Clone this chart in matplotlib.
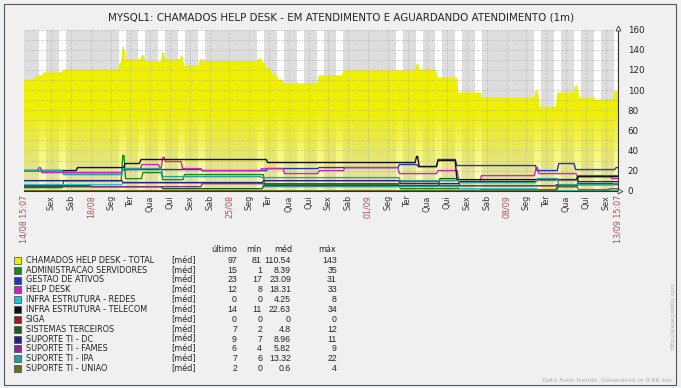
import numpy as np
import matplotlib

matplotlib.use("Agg")
import matplotlib.pyplot as plt  # noqa: E402
from matplotlib.patches import Rectangle  # noqa: E402

W, H = 681, 388

TITLE = "MYSQL1: CHAMADOS HELP DESK - EM ATENDIMENTO E AGUARDANDO ATENDIMENTO (1m)"

# time axis: days since 14/08 00:00
T_START, T_END = 0.63, 30.63

tick_days = list(range(2, 31))
tick_labels = ["Sex", "Sab", "18/08", "Seg", "Ter", "Qua", "Qui", "Sex", "Sab", "25/08",
               "Seg", "Ter", "Qua", "Qui", "Sex", "Sab", "01/09", "Seg", "Ter", "Qua",
               "Qui", "Sex", "Sab", "08/09", "Seg", "Ter", "Qua", "Qui", "Sex"]
edge_labels = ["14/08 15:07", "13/09 15:07"]

# series: change times (days) and the level held from each time on
names = ["CHAMADOS HELP DESK - TOTAL", "ADMINISTRACAO SERVIDORES", "GESTAO DE ATIVOS",
         "HELP DESK", "INFRA ESTRUTURA - REDES", "INFRA ESTRUTURA - TELECOM", "SIGA",
         "SISTEMAS TERCEIROS", "SUPORTE TI - DC", "SUPORTE TI - FAMES", "SUPORTE TI - IPA",
         "SUPORTE TI - UNIAO"]
colors = ["#eeee00", "#1a8a1a", "#2233cc", "#cc22cc", "#22c4d4", "#111111", "#a01818",
          "#1e5c1e", "#22228a", "#8a2a8a", "#26a0a0", "#6b6b1e"]

t_total = [0.63, 1.2, 1.6, 2.6, 5.45, 5.6, 5.7, 6.55, 6.7, 7.6, 7.7, 8.55, 8.65, 9.5, 9.7,
           12.45, 12.6, 12.8, 13.1, 13.4, 13.7, 15.5, 16.75, 20.45, 20.55, 21.45, 22.5, 23.7,
           26.45, 26.6, 27.55, 28.45, 28.6, 29.45, 30.45, 30.6]
v_total = [110, 114, 117, 120, 127, 143, 130, 134, 128, 137, 130, 134, 124, 130, 128,
           131, 127, 121, 115, 110, 106, 114, 119, 126, 120, 112, 97, 92,
           99, 83, 97, 104, 92, 90, 99, 97]

t_admin = [0.63, 2.6, 5.58, 5.72, 6.6, 7.6, 8.7, 12.75, 19.6, 23.7, 27.6, 28.6]
v_admin = [3, 10, 35, 12, 18, 11, 16, 6, 2, 1, 4, 15]

t_gestao = [0.63, 2.6, 5.6, 9.6, 12.9, 15.5, 19.55, 20.5, 21.5, 22.45, 26.5, 27.6, 28.45, 30.5]
v_gestao = [20, 18, 21, 20, 22, 23, 26, 24, 31, 25, 20, 27, 21, 23]

t_help = [0.63, 1.35, 1.5, 5.6, 6.55, 7.45, 7.6, 7.75, 8.6, 9.6, 12.6, 13.75, 15.5, 16.8,
          19.55, 21.5, 22.55, 23.7, 26.45, 26.6, 28.55, 30.3]
v_help = [20, 23, 18, 22, 26, 23, 33, 29, 22, 20, 22, 17, 20, 23,
          17, 20, 9, 15, 23, 17, 14, 12]

t_redes = [0.63, 5.6, 12.7, 22.6, 26.6]
v_redes = [6, 8, 4, 2, 0]

t_telecom = [0.63, 3.3, 5.7, 6.5, 12.9, 20.42, 20.55, 21.5, 22.45, 28.55]
v_telecom = [20, 23, 27, 31, 28, 34, 24, 30, 11, 14]

t_siga = [0.63]
v_siga = [0]

t_sistemas = [0.63, 7.6, 12.7, 21.6, 22.6, 28.6]
v_sistemas = [4, 2, 5, 12, 5, 7]

t_dc = [0.63, 5.6, 12.7, 19.6, 22.6, 26.5, 28.6]
v_dc = [10, 8, 10, 7, 9, 11, 9]

t_fames = [0.63, 4.0, 9.6, 19.6, 21.6, 27.5]
v_fames = [5, 4, 7, 9, 5, 6]

t_ipa = [0.63, 2.6, 5.6, 7.6, 12.6, 19.6, 22.6, 26.5, 27.6, 30.4]
v_ipa = [20, 16, 22, 14, 13, 10, 8, 12, 6, 7]

t_uniao = [0.63, 27.5, 28.6, 30.2]
v_uniao = [0, 4, 1, 2]

series = [(t_total, v_total), (t_admin, v_admin), (t_gestao, v_gestao), (t_help, v_help),
          (t_redes, v_redes), (t_telecom, v_telecom), (t_siga, v_siga),
          (t_sistemas, v_sistemas), (t_dc, v_dc), (t_fames, v_fames), (t_ipa, v_ipa),
          (t_uniao, v_uniao)]

stats = [(97, 81, 110.54, 143), (15, 1, 8.39, 35), (23, 17, 23.09, 31), (12, 8, 18.31, 33),
         (0, 0, 4.25, 8), (14, 11, 22.63, 34), (0, 0, 0, 0), (7, 2, 4.8, 12),
         (9, 7, 8.96, 11), (6, 4, 5.82, 9), (7, 6, 13.32, 22), (2, 0, 0.6, 4)]


def ramp(times, levels, w=0.08):
    """Turn level changes into a polyline with short sloped transitions."""
    xs, ys = [times[0]], [levels[0]]
    for t, a, b in zip(times[1:], levels[:-1], levels[1:]):
        xs += [t - w / 2, t + w / 2]
        ys += [a, b]
    xs.append(T_END)
    ys.append(levels[-1])
    return np.array(xs), np.array(ys)


def fmt(v):
    return f"{v:g}"


fig = plt.figure(figsize=(W / 100, H / 100), dpi=100, facecolor="#eef1f4")
fig.patches.append(Rectangle((4 / W, 1 - 385 / H), 672 / W, 381 / H, transform=fig.transFigure,
                             facecolor="#f0f0f0", edgecolor="#555555", lw=0.8, zorder=-5))

x0, x1, ytop, ybot = 24, 618, 29.7, 190.7
ax = fig.add_axes([x0 / W, 1 - ybot / H, (x1 - x0) / W, (ybot - ytop) / H])
ax.set_xlim(T_START, T_END)
ax.set_ylim(0, 160)
ax.set_facecolor("#dedede")
for s in ax.spines.values():
    s.set_visible(False)

# working hours shown in white
for n in range(1, 31):
    if (n - 5) % 7 < 5:
        ax.axvspan(n + 0.41, min(n + 0.76, T_END), color="white", lw=0, zorder=0.5)

# total: gradient filled area, opaque at the top and fading towards zero
tx, ty = ramp(t_total, v_total)
poly = ax.fill_between(tx, 0, ty, color="none", lw=0)
yy = np.linspace(0, 160, 200)
alpha = np.clip((yy + 10) / 90, 0.3, 1.0)
img = np.zeros((200, 1, 4))
img[:, 0, 0] = 0.94
img[:, 0, 1] = 0.94
img[:, 0, 2] = 0.0
img[:, 0, 3] = alpha
im = ax.imshow(img, extent=[T_START, T_END, 0, 160], origin="lower", aspect="auto",
               interpolation="bilinear", zorder=1)
im.set_clip_path(poly.get_paths()[0], transform=ax.transData)
ax.plot(tx, ty, color=colors[0], lw=0.8, zorder=1.2)

# grid
for v in range(10, 161, 10):
    ax.axhline(v, color="#999999", lw=0.6, ls=(0, (1, 2)), zorder=2, alpha=0.8)
for d in tick_days:
    ax.axvline(d, color="#999999", lw=0.6, ls=(0, (1, 2)), zorder=2, alpha=0.8)

for (t, v), c in list(zip(series, colors))[1:]:
    xs, ys = ramp(t, v)
    ax.plot(xs, ys, color=c, lw=1.0, zorder=3, solid_joinstyle="miter")

# axes lines with arrows
ax.plot([T_START, T_END], [0, 0], color="#333333", lw=0.8, zorder=4, clip_on=False)
ax.plot([T_END, T_END], [0, 162], color="#333333", lw=0.8, zorder=4, clip_on=False)
ax.plot([T_END], [162], marker="^", ms=3.5, mfc="white", mec="#333333", mew=0.6, clip_on=False, zorder=5)
ax.plot([T_END + 0.12], [0], marker=">", ms=3.5, mfc="white", mec="#333333", mew=0.6, clip_on=False, zorder=5)

ax.set_xticks([])
ax.yaxis.tick_right()
ax.set_yticks(range(0, 161, 20))
ax.tick_params(axis="y", length=0, pad=7, labelsize=6.3, labelcolor="#222222")

red = "#b0504f"
for d, lab in zip(tick_days, tick_labels):
    col = red if "/" in lab else "#333333"
    ax.text(d, -0.028, lab, transform=ax.get_xaxis_transform(), rotation=90, ha="center",
            va="top", fontsize=5.8, color=col)
for d, lab in zip([T_START, T_END], edge_labels):
    ax.text(d, -0.028, lab, transform=ax.get_xaxis_transform(), rotation=90, ha="center",
            va="top", fontsize=5.8, color=red)

fig.text(341 / W, 1 - 18 / H, TITLE, ha="center", va="center", fontsize=7.4, color="#222222")

# legend table
fs = 5.9
hy = 249.5
for txt, xr in [("último", 237), ("mín", 262), ("méd", 292), ("máx", 336)]:
    fig.text(xr / W, 1 - hy / H, txt, ha="right", va="center", fontsize=fs, color="#222222")
for i, (name, c, st) in enumerate(zip(names, colors, stats)):
    y = 260.3 + i * 9.85
    fig.patches.append(Rectangle((14 / W, 1 - (y + 3.5) / H), 7 / W, 7 / H, transform=fig.transFigure,
                                 facecolor=c, edgecolor="#444444", lw=0.5, zorder=3))
    fig.text(26 / W, 1 - y / H, name, ha="left", va="center", fontsize=fs, color="#222222")
    fig.text(171 / W, 1 - y / H, "[méd]", ha="left", va="center", fontsize=fs, color="#222222")
    for val, xr in zip(st, [237, 262, 291, 337]):
        fig.text(xr / W, 1 - y / H, fmt(val), ha="right", va="center", fontsize=6.3,
                 family="Liberation Sans", color="#222222")

fig.text(674 / W, 1 - 380 / H, "Data from trends. Generated in 0.66 sec.", ha="right", va="center",
         fontsize=4.6, color="#aaaaaa")
fig.text(673 / W, 1 - 315 / H, "http://www.zabbix.com", ha="center", va="center", rotation=90,
         fontsize=4.2, color="#aaaaaa")

fig.savefig("out.png", dpi=100, facecolor=fig.get_facecolor())
